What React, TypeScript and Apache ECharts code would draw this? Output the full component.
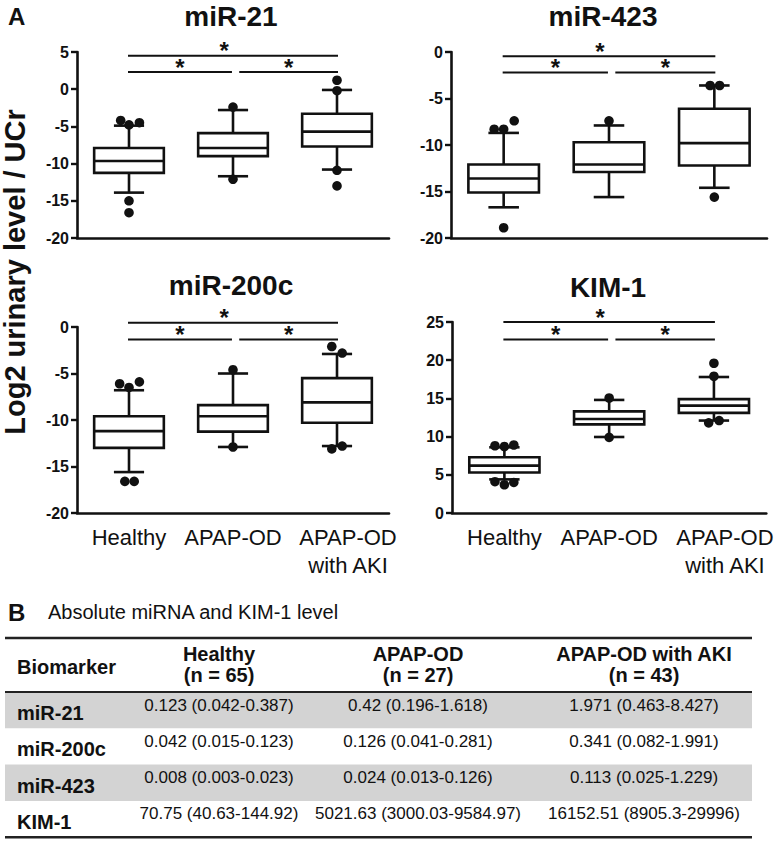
import React, { useEffect, useRef } from "react";
import * as echarts from "echarts";

const FONT = '"Liberation Sans", Arial, Helvetica, sans-serif';
const INK = "#111";

const categories = ["Healthy", "APAP-OD", "APAP-OD\nwith AKI"];
const panelTitles = ["miR-21", "miR-423", "miR-200c", "KIM-1"];
const yMins = [-20, -20, -20, 0];
const yMaxs = [5, 0, 0, 25];
const yStep = 5;

// box stats per category: [lower whisker, Q1, median, Q3, upper whisker]
const mir21Box = [
  [-13.9, -11.25, -9.65, -7.9, -4.9],
  [-11.7, -9.0, -7.9, -5.9, -2.8],
  [-10.8, -7.7, -5.7, -3.3, -0.1],
];
const mir423Box = [
  [-16.7, -15.1, -13.6, -12.1, -8.7],
  [-15.6, -12.9, -12.1, -9.7, -7.9],
  [-14.6, -12.2, -9.8, -6.1, -3.6],
];
const mir200cBox = [
  [-15.6, -13.0, -11.2, -9.6, -6.8],
  [-12.9, -11.25, -9.6, -8.4, -5.0],
  [-12.8, -10.3, -8.1, -5.5, -2.9],
];
const kim1Box = [
  [4.4, 5.3, 6.2, 7.3, 8.6],
  [9.95, 11.6, 12.3, 13.3, 14.8],
  [12.1, 13.1, 14.05, 14.9, 17.8],
];

// outliers: [category index, value, horizontal jitter (fraction of band)]
const mir21Out = [
  [0, -4.2, -0.08], [0, -4.8, 0], [0, -4.5, 0.1], [0, -15.0, 0], [0, -16.6, 0],
  [1, -2.4, 0], [1, -12.1, 0],
  [2, 1.2, 0], [2, -0.2, 0], [2, -10.9, 0], [2, -13.0, 0],
];
const mir423Out = [
  [0, -8.3, -0.09], [0, -8.3, 0], [0, -7.4, 0.1], [0, -18.9, 0],
  [1, -7.4, 0],
  [2, -3.6, -0.04], [2, -3.6, 0.05], [2, -15.6, 0],
];
const mir200cOut = [
  [0, -6.1, -0.09], [0, -6.5, 0], [0, -5.9, 0.1], [0, -16.6, -0.04], [0, -16.6, 0.05],
  [1, -4.6, 0], [1, -12.9, 0],
  [2, -2.1, -0.05], [2, -2.8, 0.05], [2, -13.1, -0.05], [2, -12.8, 0.05],
];
const kim1Out = [
  [0, 8.8, -0.09], [0, 8.7, 0], [0, 8.9, 0.09], [0, 4.1, -0.09], [0, 3.7, 0], [0, 4.0, 0.09],
  [1, 15.05, 0], [1, 9.9, 0],
  [2, 19.6, 0], [2, 17.9, 0], [2, 11.8, -0.05], [2, 12.1, 0.05],
];

// significance brackets: [from category, to category, y value]
const mir21Sig = [[0, 2, 4.5], [0, 1, 2.3], [1, 2, 2.3]];
const mir423Sig = [[0, 2, -0.45], [0, 1, -2.2], [1, 2, -2.2]];
const mir200cSig = [[0, 2, 0.45], [0, 1, -1.35], [1, 2, -1.35]];
const kim1Sig = [[0, 2, 25.0], [0, 1, 22.7], [1, 2, 22.7]];

const panelBoxes = [mir21Box, mir423Box, mir200cBox, kim1Box];
const panelOutliers = [mir21Out, mir423Out, mir200cOut, kim1Out];
const panelSig = [mir21Sig, mir423Sig, mir200cSig, kim1Sig];

// table (panel B)
const tableTitle = "Absolute miRNA and KIM-1 level";
const tableHeaders = ["Healthy\n(n = 65)", "APAP-OD\n(n = 27)", "APAP-OD with AKI\n(n = 43)"];
const tableBiomarkers = ["miR-21", "miR-200c", "miR-423", "KIM-1"];
const tableHealthy = ["0.123 (0.042-0.387)", "0.042 (0.015-0.123)", "0.008 (0.003-0.023)", "70.75 (40.63-144.92)"];
const tableApapOd = ["0.42 (0.196-1.618)", "0.126 (0.041-0.281)", "0.024 (0.013-0.126)", "5021.63 (3000.03-9584.97)"];
const tableApapAki = ["1.971 (0.463-8.427)", "0.341 (0.082-1.991)", "0.113 (0.025-1.229)", "16152.51 (8905.3-29996)"];

const grids = [
  { left: 77, top: 52, width: 312, height: 186 },
  { left: 451, top: 52, width: 316, height: 186 },
  { left: 77, top: 327, width: 312, height: 186 },
  { left: 452, top: 322, width: 318, height: 191 },
];
const titlePos = [
  [231, 16],
  [603, 16],
  [231, 285],
  [608, 287],
];

function buildOption() {
  const lineStyle = { stroke: INK, lineWidth: 2.6 };
  const series: any[] = [];
  panelBoxes.forEach((box, i) => {
    series.push({
      type: "custom",
      xAxisIndex: i,
      yAxisIndex: i,
      clip: false,
      data: box.map((b, c) => [c, ...b]),
      renderItem: (params: any, api: any) => {
        const c = api.value(0);
        const band = api.size([1, 0])[0];
        const x = api.coord([c, 0])[0];
        const y = (k: number) => api.coord([c, api.value(k)])[1];
        const yMin = y(1), yQ1 = y(2), yMed = y(3), yQ3 = y(4), yMax = y(5);
        const hw = band * 0.335;
        const cw = band * 0.145;
        return {
          type: "group",
          children: [
            { type: "line", shape: { x1: x, y1: yMax, x2: x, y2: yQ3 }, style: lineStyle },
            { type: "line", shape: { x1: x, y1: yQ1, x2: x, y2: yMin }, style: lineStyle },
            { type: "line", shape: { x1: x - cw, y1: yMax, x2: x + cw, y2: yMax }, style: lineStyle },
            { type: "line", shape: { x1: x - cw, y1: yMin, x2: x + cw, y2: yMin }, style: lineStyle },
            { type: "rect", shape: { x: x - hw, y: yQ3, width: 2 * hw, height: yQ1 - yQ3 }, style: { ...lineStyle, fill: "#fff" } },
            { type: "line", shape: { x1: x - hw, y1: yMed, x2: x + hw, y2: yMed }, style: lineStyle },
          ],
        };
      },
    });
    series.push({
      type: "custom",
      xAxisIndex: i,
      yAxisIndex: i,
      clip: false,
      data: panelOutliers[i],
      renderItem: (params: any, api: any) => {
        const band = api.size([1, 0])[0];
        const p = api.coord([api.value(0), api.value(1)]);
        return {
          type: "circle",
          shape: { cx: p[0] + api.value(2) * band, cy: p[1], r: 4.8 },
          style: { fill: INK },
        };
      },
    });
    series.push({
      type: "custom",
      xAxisIndex: i,
      yAxisIndex: i,
      clip: false,
      data: panelSig[i],
      renderItem: (params: any, api: any) => {
        const from = api.value(0), to = api.value(1), v = api.value(2);
        const band = api.size([1, 0])[0];
        const p1 = api.coord([from, v]);
        const p2 = api.coord([to, v]);
        const x1 = p1[0] + (from === 1 ? band * 0.06 : -1);
        const x2 = p2[0] - (to === 1 ? band * 0.01 : -1);
        const mid = (x1 + x2) / 2 - (to - from === 2 ? band * 0.085 : 0);
        return {
          type: "group",
          children: [
            { type: "line", shape: { x1, y1: p1[1], x2, y2: p1[1] }, style: { stroke: INK, lineWidth: 2 } },
            {
              type: "text",
              x: mid,
              y: p1[1] - 5,
              style: { text: "*", fontSize: 24, fontWeight: "bold", fontFamily: FONT, fill: INK, align: "center", verticalAlign: "middle" },
            },
          ],
        };
      },
    });
  });

  const xAxis = grids.map((g, i) => ({
    type: "category",
    gridIndex: i,
    data: categories.map((c, k) => (k === 2 ? { value: c, textStyle: { padding: [0, 0, 0, 22] } } : c)),
    boundaryGap: true,
    axisLine: { onZero: false, lineStyle: { color: INK, width: 2.6 } },
    axisTick: { alignWithLabel: true, length: 7, lineStyle: { color: INK, width: 2.4 } },
    axisLabel: {
      show: i >= 2,
      interval: 0,
      fontSize: 22,
      lineHeight: 28,
      color: INK,
      fontFamily: FONT,
      margin: 10,
    },
    splitLine: { show: false },
  }));

  const yAxis = grids.map((g, i) => ({
    type: "value",
    gridIndex: i,
    min: yMins[i],
    max: yMaxs[i],
    interval: yStep,
    axisLine: { show: true, onZero: false, lineStyle: { color: INK, width: 2.6 } },
    axisTick: { show: true, length: 6, lineStyle: { color: INK, width: 2.4 } },
    axisLabel: { fontSize: 16, fontWeight: "bold", color: INK, fontFamily: FONT, margin: 8 },
    splitLine: { show: false },
  }));

  const graphics: any[] = [];
  graphics.push({
    type: "text", x: 8, y: 16,
    style: { text: "A", fontSize: 24, fontWeight: "bold", fontFamily: FONT, fill: INK, align: "left", verticalAlign: "middle" },
  });
  panelTitles.forEach((t, i) => {
    graphics.push({
      type: "text", x: titlePos[i][0], y: titlePos[i][1],
      style: { text: t, fontSize: 28, fontWeight: "bold", fontFamily: FONT, fill: INK, align: "center", verticalAlign: "middle" },
    });
  });
  graphics.push({
    type: "text", x: 15, y: 272, rotation: Math.PI / 2,
    style: { text: "Log2 urinary level / UCr", fontSize: 29, fontWeight: "bold", fontFamily: FONT, fill: INK, align: "center", verticalAlign: "middle" },
  });

  // Panel B table
  const tLeft = 5, tRight = 752;
  const topRule = 638, headRule = 692, rowH = 36.3;
  const colX = [219, 418, 644];
  graphics.push({
    type: "text", x: 8, y: 612,
    style: { text: "B", fontSize: 24, fontWeight: "bold", fontFamily: FONT, fill: INK, align: "left", verticalAlign: "middle" },
  });
  graphics.push({
    type: "text", x: 48, y: 612,
    style: { text: tableTitle, fontSize: 20, fontFamily: FONT, fill: INK, align: "left", verticalAlign: "middle" },
  });
  tableBiomarkers.forEach((b, r) => {
    const top = headRule + r * rowH;
    if (r % 2 === 0) {
      graphics.push({ type: "rect", shape: { x: tLeft, y: top, width: tRight - tLeft, height: rowH }, style: { fill: "#d3d3d3" } });
    }
    graphics.push({
      type: "text", x: 17, y: top + 21,
      style: { text: b, fontSize: 20, fontWeight: "bold", fontFamily: FONT, fill: INK, align: "left", verticalAlign: "middle" },
    });
    [tableHealthy, tableApapOd, tableApapAki].forEach((col, k) => {
      graphics.push({
        type: "text", x: colX[k], y: top + 13,
        style: { text: col[r], fontSize: 17, fontFamily: FONT, fill: INK, align: "center", verticalAlign: "middle" },
      });
    });
  });
  const bottomRule = headRule + tableBiomarkers.length * rowH;
  [[topRule, 2.6], [headRule, 2.2], [bottomRule, 2.6]].forEach(([y, w]) => {
    graphics.push({ type: "line", shape: { x1: tLeft, y1: y, x2: tRight, y2: y }, style: { stroke: "#222", lineWidth: w } });
  });
  graphics.push({
    type: "text", x: 17, y: 667,
    style: { text: "Biomarker", fontSize: 20, fontWeight: "bold", fontFamily: FONT, fill: INK, align: "left", verticalAlign: "middle" },
  });
  tableHeaders.forEach((h, k) => {
    graphics.push({
      type: "text", x: colX[k], y: 664,
      style: { text: h, fontSize: 20, lineHeight: 21, fontWeight: "bold", fontFamily: FONT, fill: INK, align: "center", verticalAlign: "middle" },
    });
  });

  return {
    animation: false,
    backgroundColor: "#fff",
    textStyle: { fontFamily: FONT },
    grid: grids.map((g) => ({ ...g, containLabel: false })),
    xAxis,
    yAxis,
    series,
    graphic: { elements: graphics },
  };
}

export default function App() {
  const ref = useRef<HTMLDivElement>(null);
  useEffect(() => {
    document.body.style.margin = "0";
    if (!ref.current) return;
    const chart = echarts.init(ref.current, null, { renderer: "svg" });
    chart.setOption(buildOption() as any);
    return () => chart.dispose();
  }, []);
  return <div ref={ref} style={{ width: 776, height: 841, background: "#fff" }} />;
}
